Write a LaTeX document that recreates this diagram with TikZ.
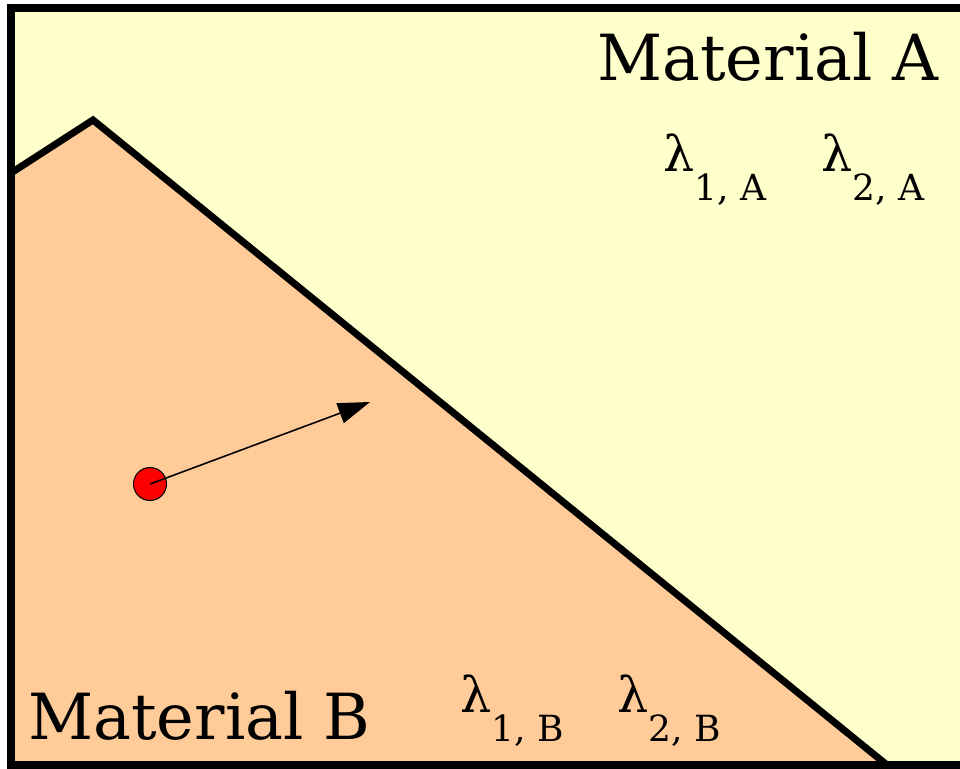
\documentclass[tikz,border=0pt]{standalone}
\usepackage{fontspec}
\setmainfont{DejaVu Serif}
\usepackage{tikz}
\usetikzlibrary{arrows.meta}
\definecolor{matA}{HTML}{FFFFCC}
\definecolor{matB}{HTML}{FFCC99}
\definecolor{dotred}{HTML}{FF0000}
\tikzset{
  wall/.style={line width=4pt, line join=miter},
  matlabel/.style={anchor=base west, inner sep=0pt, font=\fontsize{36.2}{36}\selectfont},
  lam/.style={anchor=base west, inner sep=0pt, font=\fontsize{28}{28}\selectfont},
  particle/.style={circle, draw=black, fill=dotred, line width=0.6pt, minimum size=0.66cm, inner sep=0pt},
  vel/.style={-{Triangle[length=0.64cm, width=0.42cm]}, line width=0.9pt},
}
\newcommand{\lamsub}[1]{λ\raisebox{-17pt}{\fontsize{20.5}{20}\selectfont #1}}

\begin{document}
\begin{tikzpicture}[x=0.02cm, y=-0.02cm]
    \useasboundingbox (0,0) rectangle (960,768);
    \clip (0,0) rectangle (960,768);
    % the two materials
    \fill[matA] (11,8) rectangle (990,765);
    \fill[matB] (11,173) -- (93,120) -- (887,765) -- (11,765) -- cycle;
    \coordinate (iL) at (11,173);
    \coordinate (iP) at (93,120);
    \coordinate (iB) at (887,765);
    \draw[wall] (iL) -- (iP) -- (iB);
    \draw[wall] (990,8) rectangle (11,765);
    % labels
    \node[matlabel] (nameA) at (597,80) {Material A};
    \node[matlabel] (nameB) at (28,739) {Material B};
    \node[lam] (l1A) at (663,171) {\lamsub{1, A}};
    \node[lam] (l2A) at (821,171) {\lamsub{2, A}};
    \node[lam] (l1B) at (460,712) {\lamsub{1, B}};
    \node[lam] (l2B) at (617,712) {\lamsub{2, B}};
    % particle and its direction
    \node[particle] (dot) at (150,484) {};
    \coordinate (tip) at (370,402);
    \draw[vel] (dot.center) -- (tip);
\end{tikzpicture}
\end{document}
